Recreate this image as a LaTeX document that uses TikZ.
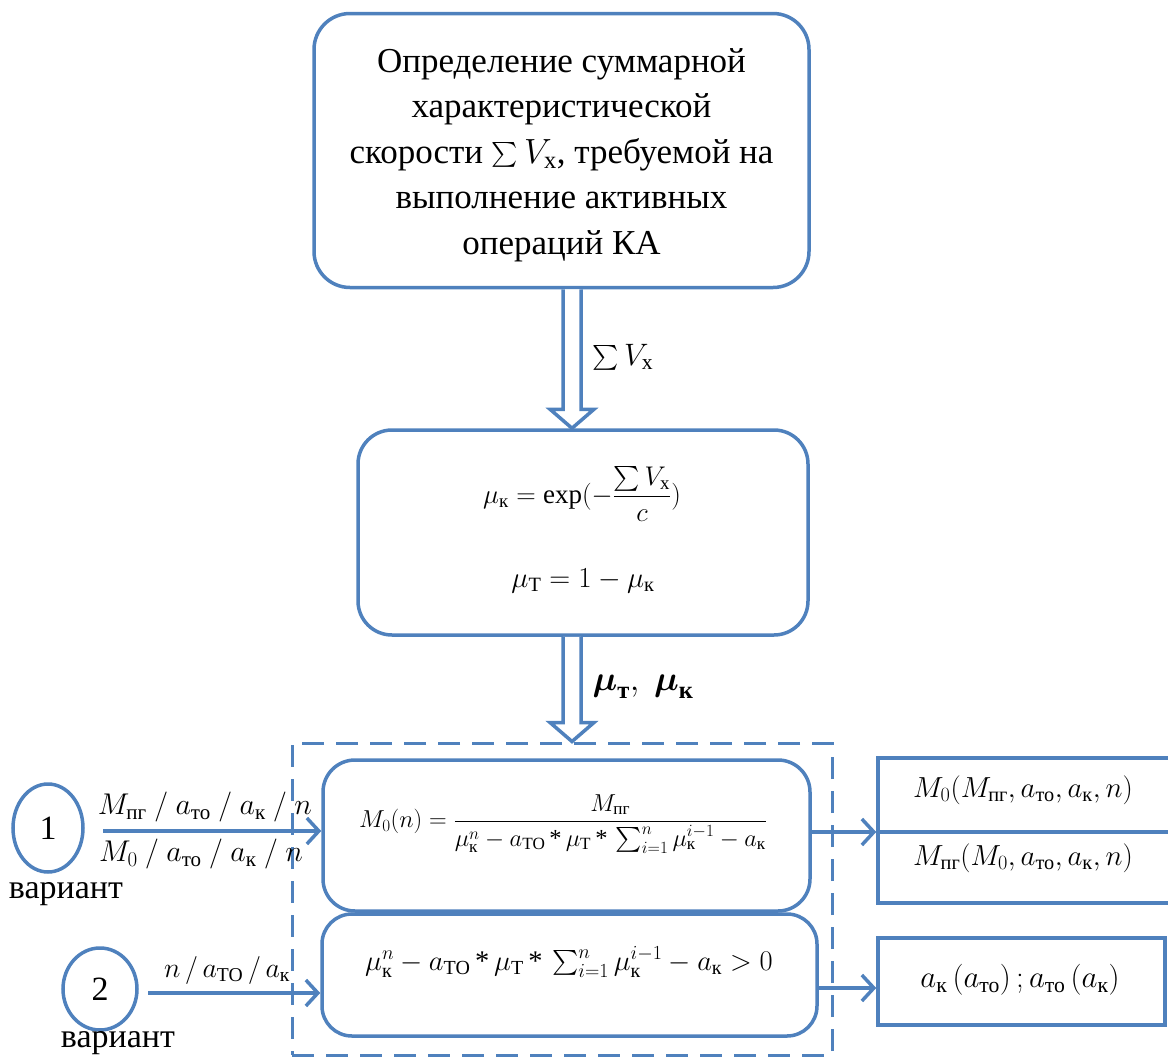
\RequirePackage{fix-cm}
\documentclass[tikz,border=0pt]{standalone}
\usepackage{amsmath}
\usepackage{fontspec}
\setmainfont{Liberation Serif}
\usetikzlibrary{arrows.meta,calc,shapes.geometric}
\definecolor{blue1}{RGB}{79,129,189}
\newcommand\cy[1]{\text{#1}}
\newcommand\astr{\,\text{*}\,}
\newcommand\harrow[2]{\draw[blue1,line width=3.5pt,fill=white,line join=miter]
  ($(#1)+(-9,0)$) -- ($(#2)+(-9,-19)$) -- ($(#2)+(-22,-19)$) -- (#2) --
  ($(#2)+(22,-19)$) -- ($(#2)+(9,-19)$) -- ($(#1)+(9,0)$);}
\begin{document}
\begin{tikzpicture}[x=1pt,y=-1pt,
  rbox/.style={draw=blue1,line width=3.5pt,rounded corners=36pt,inner sep=0pt,align=center,fill=white},
  sbox/.style={draw=blue1,line width=3.5pt,inner sep=0pt,fill=white},
  grpbox/.style={draw=blue1,line width=3pt,dash pattern=on 22pt off 12pt,inner sep=0pt},
  circ/.style={draw=blue1,line width=3.5pt,ellipse,inner sep=0pt,font=\fontsize{34}{40}\selectfont},
  conn/.style={blue1,line width=3.5pt,-{Straight Barb[length=12pt,width=26pt]}},
  plain/.style={blue1,line width=3.5pt},
  lbl/.style={inner sep=0pt},
]
\path[clip] (0,0) rectangle (1168,1063);

% top box
\node[rbox,minimum width=495pt,minimum height=274pt] (top) at (561.5,150.5) {};
\node[lbl,align=center,font=\fontsize{35}{45.5}\selectfont] (toptext) at (561.5,155)
  {Определение суммарной\\характеристической\\скорости $\sum V_{\cy{х}}$, требуемой на\\выполнение активных\\операций КА};

% middle box
\node[rbox,minimum width=450pt,minimum height=205pt,rounded corners=34pt] (mid) at (583,532.5) {};
\node[lbl,font=\fontsize{27}{32}\selectfont] (f1) at (582,494) {$\mu_{\cy{к}}=\exp(-\dfrac{\sum V_{\cy{х}}}{c})$};
\node[lbl,font=\fontsize{29}{34}\selectfont] (f2) at (583,581) {$\mu_{\cy{Т}}=1-\mu_{\cy{к}}$};

% group
\node[grpbox,minimum width=540pt,minimum height=312pt] (grp) at (562,899) {};

% box3 and box4
\node[rbox,minimum width=487pt,minimum height=151pt,rounded corners=32pt] (b3) at (566.5,835.5) {};
\node[rbox,minimum width=495pt,minimum height=122pt,rounded corners=30pt] (b4) at (569.5,975) {};
\node[lbl,font=\fontsize{24.5}{29}\selectfont] (f3) at (563,824)
  {$M_0(n)=\dfrac{M_{\cy{пг}}}{\mu_{\cy{к}}^n-a_{\cy{ТО}}\astr\mu_{\cy{Т}}\astr\sum_{i=1}^{n}\mu_{\cy{к}}^{i-1}-a_{\cy{к}}}$};
\node[lbl,font=\fontsize{28.5}{33}\selectfont] (f4) at (569,962)
  {$\mu_{\cy{к}}^n-a_{\cy{ТО}}\astr\mu_{\cy{Т}}\astr\sum_{i=1}^{n}\mu_{\cy{к}}^{i-1}-a_{\cy{к}}>0$};

% hollow arrows
\coordinate (ax) at (572,0);
\harrow{top.south -| ax}{mid.north -| ax}
\harrow{mid.south -| ax}{grp.north -| ax}
\node[lbl,font=\fontsize{31}{36}\selectfont] (l1) at (623,357) {$\sum V_{\cy{х}}$};
\node[lbl,font=\fontsize{35}{40}\selectfont] (l2) at (643,687)
  {$\boldsymbol{\mu}_{\text{\bfseries т}},\ \boldsymbol{\mu}_{\text{\bfseries к}}$};

% right boxes
\node[sbox,minimum width=330pt,minimum height=145pt] (r1) at (1043,830.5) {};
\node[sbox,minimum width=287pt,minimum height=87pt] (r2) at (1021.5,981.5) {};
\node[lbl,font=\fontsize{29}{34}\selectfont] (t1) at (1023,790) {$M_0(M_{\cy{пг}},a_{\cy{то}},a_{\cy{к}},n)$};
\node[lbl,font=\fontsize{29}{34}\selectfont] (t2) at (1023,858) {$M_{\cy{пг}}(M_0,a_{\cy{то}},a_{\cy{к}},n)$};
\node[lbl,font=\fontsize{31}{36}\selectfont] (t3) at (1020,980) {$a_{\cy{к}}\,(a_{\cy{то}})\,;a_{\cy{то}}\,(a_{\cy{к}})$};

\coordinate (m1) at (0,832);
\coordinate (m2) at (0,988);
\draw[conn] (b3.east |- m1) -- (r1.west |- m1);
\draw[plain] (r1.west |- m1) -- (r1.east |- m1);
\draw[conn] (b4.east |- m2) -- (r2.west |- m2);

% left circles
\node[circ,minimum width=70pt,minimum height=88pt] (c1) at (48,828) {1};
\node[circ,minimum width=74pt,minimum height=82pt] (c2) at (100,989) {2};
\node[lbl,font=\fontsize{34}{40}\selectfont] (v1) at (66,894) {вариант};
\node[lbl,font=\fontsize{34}{40}\selectfont] (v2) at (118,1043) {вариант};

\coordinate (s1) at (103,831);
\coordinate (s2) at (148,993);
\draw[conn] (s1) -- (s1 -| b3.west);
\draw[conn] (s2) -- (s2 -| b4.west);
\node[lbl,font=\fontsize{30}{35}\selectfont] (a1) at (205,807) {$M_{\cy{пг}}\ /\ a_{\cy{то}}\ /\ a_{\cy{к}}\ /\ n$};
\node[lbl,font=\fontsize{30}{35}\selectfont] (a2) at (201,854) {$M_0\ /\ a_{\cy{то}}\ /\ a_{\cy{к}}\ /\ n$};
\node[lbl,font=\fontsize{28}{33}\selectfont] (a3) at (227,970) {$n\,/\,a_{\cy{ТО}}\,/\,a_{\cy{к}}$};
\end{tikzpicture}
\end{document}
